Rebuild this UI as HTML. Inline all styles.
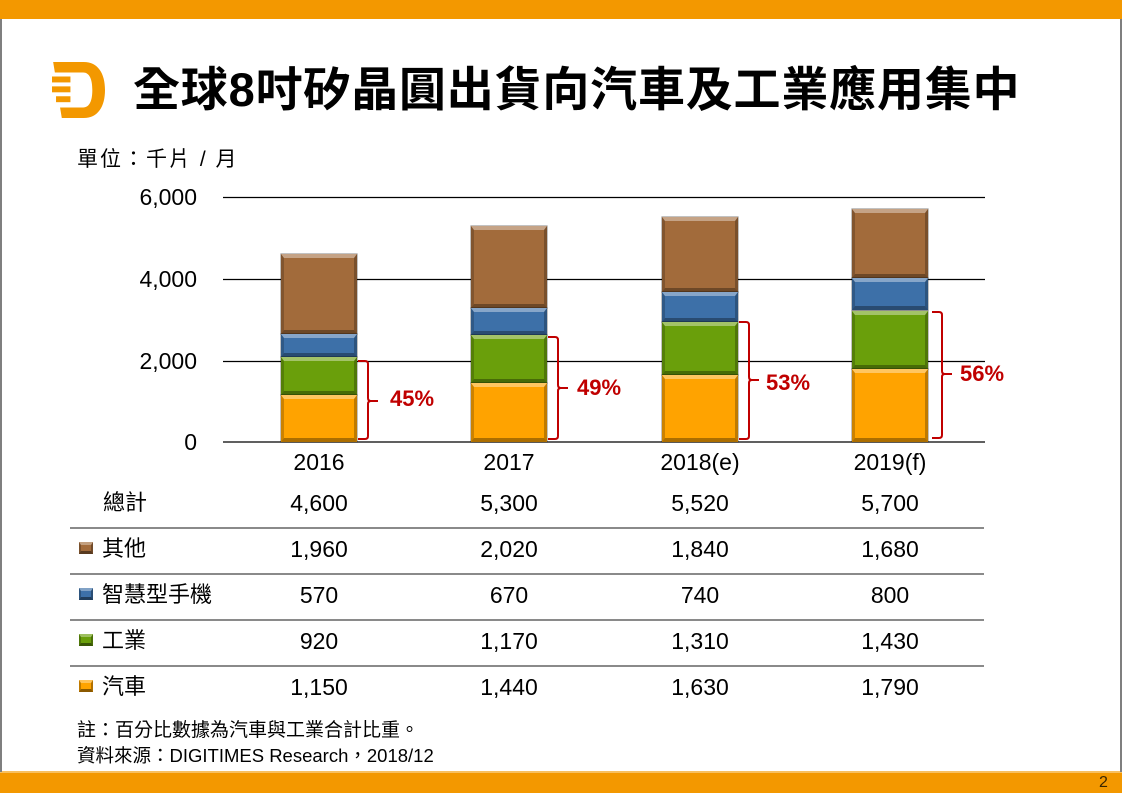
<!DOCTYPE html>
<html><head><meta charset="utf-8">
<style>
html,body{margin:0;padding:0;}
body{width:1122px;height:793px;position:relative;overflow:hidden;background:#fff;font-family:"Liberation Sans","Noto Sans CJK TC",sans-serif;color:#000;}
.abs{position:absolute;white-space:nowrap;}
.seg{position:absolute;width:76px;box-sizing:border-box;border-style:solid;border-width:4px 3px 4px 3px;
 border-color:rgba(255,255,255,.38) rgba(0,0,0,.25) rgba(0,0,0,.32) rgba(0,0,0,.2);box-shadow:0 0 0 .6px rgba(0,0,0,.4);}
.br{background:#a26b3b;}
.bl{background:#3d70a8;}
.gr{background:#6a9f0b;}
.or{background:#ffa300;}
.ico{position:absolute;left:79px;width:14px;height:12px;box-sizing:border-box;border-style:solid;border-width:3px 2px 3px 2px;
 border-color:rgba(255,255,255,.35) rgba(0,0,0,.3) rgba(0,0,0,.45) rgba(0,0,0,.25);}
.yl{position:absolute;right:925px;font-size:23px;line-height:26px;text-align:right;}
.xl{position:absolute;width:140px;text-align:center;font-size:23px;line-height:26px;}
.lab{position:absolute;font-size:22px;line-height:26px;left:102px;font-family:"Liberation Sans","Noto Sans CJK TC",sans-serif;}
.val{position:absolute;width:140px;text-align:center;font-size:23px;line-height:26px;}
.pct{position:absolute;font-size:22px;font-weight:bold;color:#c00000;line-height:26px;}
</style></head><body>
<!-- frame -->
<div class="abs" style="left:0;top:0;width:1122px;height:19px;background:#f39800;"></div>
<div class="abs" style="left:0;top:772px;width:1122px;height:21px;background:#f39800;"></div>
<div class="abs" style="left:0;top:771px;width:1122px;height:2px;background:#f8c060;"></div>
<div class="abs" style="left:0;top:19px;width:2px;height:753px;background:#7f7f7f;"></div>
<div class="abs" style="left:1120px;top:19px;width:2px;height:753px;background:#7f7f7f;"></div>
<div class="abs" style="left:1099px;top:773px;font-size:16px;line-height:20px;color:#3a2600;">2</div>

<!-- logo -->
<svg class="abs" style="left:52px;top:62px;" width="53" height="56" viewBox="38 20 184 170" preserveAspectRatio="none">
<path fill="#f39800" d="M42,20 H148 C198,20 222,55 222,105 C222,155 198,190 148,190 H72 L66,158 H146 C168,158 178,138 178,105 C178,72 168,52 146,52 H48 Z"/>
<rect fill="#f39800" x="38" y="64" width="64" height="18"/>
<rect fill="#f39800" x="38" y="94" width="64" height="18"/>
<rect fill="#f39800" x="52" y="124" width="50" height="18"/>
</svg>

<!-- title -->
<div class="abs" style="left:133px;top:62px;font-size:47px;line-height:56px;font-weight:bold;letter-spacing:0.8px;font-family:'Liberation Sans','Noto Sans CJK TC',sans-serif;">全球8吋矽晶圓出貨向汽車及工業應用集中</div>
<div class="abs" style="left:77px;top:147px;font-size:21px;line-height:26px;letter-spacing:2px;">單位：千片 / 月</div>

<!-- grid + brackets -->
<svg class="abs" style="left:0;top:0;" width="1122" height="793">
<g stroke="#000" stroke-width="1.2">
<line x1="223" y1="197.5" x2="985" y2="197.5"/>
<line x1="223" y1="279.5" x2="985" y2="279.5"/>
<line x1="223" y1="361.5" x2="985" y2="361.5"/>
<line x1="223" y1="442" x2="985" y2="442"/>
</g>
<g stroke="#c00000" stroke-width="2" fill="none">
<path d="M358,361 H365 Q368,361 368,364 V398 Q368,401 371,401 H378 M371,401 Q368,401 368,404 V436 Q368,439 365,439 H358"/>
<path d="M548,337 H555 Q558,337 558,340 V385 Q558,388 561,388 H568 M561,388 Q558,388 558,391 V436 Q558,439 555,439 H548"/>
<path d="M739,322 H746 Q749,322 749,325 V377 Q749,380 752,380 H759 M752,380 Q749,380 749,383 V436 Q749,439 746,439 H739"/>
<path d="M932,312 H939 Q942,312 942,315 V371 Q942,374 945,374 H952 M945,374 Q942,374 942,377 V435 Q942,438 939,438 H932"/>
</g>
</svg>

<!-- y labels -->
<div class="yl" style="top:184px;">6,000</div>
<div class="yl" style="top:266px;">4,000</div>
<div class="yl" style="top:348px;">2,000</div>
<div class="yl" style="top:429px;">0</div>

<!-- bars -->
<div class="seg br" style="left:281px;top:254.2px;height:80px;"></div>
<div class="seg bl" style="left:281px;top:334.2px;height:23.2px;"></div>
<div class="seg gr" style="left:281px;top:357.4px;height:37.6px;"></div>
<div class="seg or" style="left:281px;top:395px;height:47px;"></div>

<div class="seg br" style="left:471px;top:225.6px;height:82.4px;"></div>
<div class="seg bl" style="left:471px;top:308px;height:27.4px;"></div>
<div class="seg gr" style="left:471px;top:335.4px;height:47.8px;"></div>
<div class="seg or" style="left:471px;top:383.2px;height:58.8px;"></div>

<div class="seg br" style="left:662px;top:216.6px;height:75.1px;"></div>
<div class="seg bl" style="left:662px;top:291.7px;height:30.2px;"></div>
<div class="seg gr" style="left:662px;top:321.9px;height:53.5px;"></div>
<div class="seg or" style="left:662px;top:375.4px;height:66.6px;"></div>

<div class="seg br" style="left:852px;top:209.2px;height:68.6px;"></div>
<div class="seg bl" style="left:852px;top:277.8px;height:32.7px;"></div>
<div class="seg gr" style="left:852px;top:310.5px;height:58.4px;"></div>
<div class="seg or" style="left:852px;top:368.9px;height:73.1px;"></div>

<!-- percentages -->
<div class="pct" style="left:390px;top:386px;">45%</div>
<div class="pct" style="left:577px;top:375px;">49%</div>
<div class="pct" style="left:766px;top:370px;">53%</div>
<div class="pct" style="left:960px;top:361px;">56%</div>

<!-- x labels -->
<div class="xl" style="left:249px;top:449px;">2016</div>
<div class="xl" style="left:439px;top:449px;">2017</div>
<div class="xl" style="left:630px;top:449px;">2018(e)</div>
<div class="xl" style="left:820px;top:449px;">2019(f)</div>

<!-- table lines -->
<div class="abs" style="left:70px;top:527px;width:914px;height:1.5px;background:#8a8a8a;"></div>
<div class="abs" style="left:70px;top:573px;width:914px;height:1.5px;background:#8a8a8a;"></div>
<div class="abs" style="left:70px;top:619px;width:914px;height:1.5px;background:#8a8a8a;"></div>
<div class="abs" style="left:70px;top:665px;width:914px;height:1.5px;background:#8a8a8a;"></div>

<!-- table labels -->
<div class="lab" style="left:103px;top:490px;">總計</div>
<div class="ico br" style="top:542px;"></div>
<div class="lab" style="top:536px;">其他</div>
<div class="ico bl" style="top:588px;"></div>
<div class="lab" style="top:582px;">智慧型手機</div>
<div class="ico gr" style="top:634px;"></div>
<div class="lab" style="top:628px;">工業</div>
<div class="ico or" style="top:680px;"></div>
<div class="lab" style="top:674px;">汽車</div>

<!-- values -->
<div class="val" style="left:249px;top:490px;">4,600</div>
<div class="val" style="left:439px;top:490px;">5,300</div>
<div class="val" style="left:630px;top:490px;">5,520</div>
<div class="val" style="left:820px;top:490px;">5,700</div>

<div class="val" style="left:249px;top:536px;">1,960</div>
<div class="val" style="left:439px;top:536px;">2,020</div>
<div class="val" style="left:630px;top:536px;">1,840</div>
<div class="val" style="left:820px;top:536px;">1,680</div>

<div class="val" style="left:249px;top:582px;">570</div>
<div class="val" style="left:439px;top:582px;">670</div>
<div class="val" style="left:630px;top:582px;">740</div>
<div class="val" style="left:820px;top:582px;">800</div>

<div class="val" style="left:249px;top:628px;">920</div>
<div class="val" style="left:439px;top:628px;">1,170</div>
<div class="val" style="left:630px;top:628px;">1,310</div>
<div class="val" style="left:820px;top:628px;">1,430</div>

<div class="val" style="left:249px;top:674px;">1,150</div>
<div class="val" style="left:439px;top:674px;">1,440</div>
<div class="val" style="left:630px;top:674px;">1,630</div>
<div class="val" style="left:820px;top:674px;">1,790</div>

<!-- notes -->
<div class="abs" style="left:77px;top:719px;font-size:19px;line-height:24px;">註：百分比數據為汽車與工業合計比重。</div>
<div class="abs" style="left:77px;top:744px;font-size:18.5px;line-height:24px;">資料來源：DIGITIMES Research，2018/12</div>
</body></html>
